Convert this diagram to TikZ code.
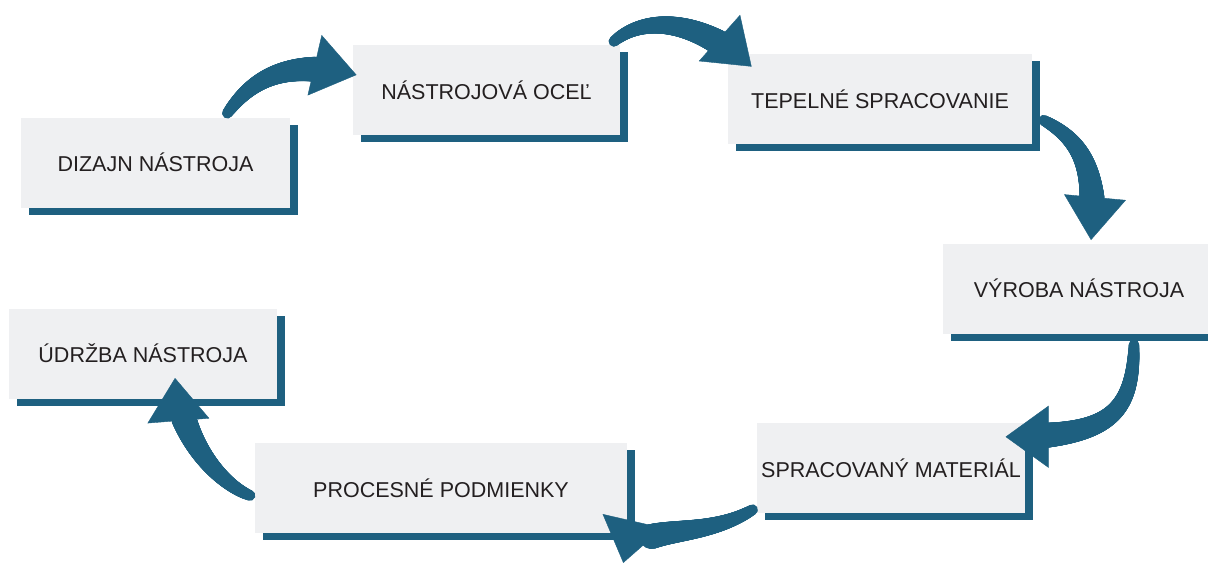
\documentclass[tikz,border=0pt]{standalone}
\usepackage{fontspec}
\setmainfont{Liberation Sans}
\usetikzlibrary{shadows,decorations.markings,arrows.meta}

\definecolor{flowblue}{RGB}{30,96,128}
\definecolor{boxgray}{RGB}{239,240,242}
\definecolor{textgray}{RGB}{35,31,32}

\tikzset{
  stage/.style={fill=boxgray, text=textgray, inner sep=0pt, minimum height=90pt,
    font=\fontsize{21.5pt}{26pt}\selectfont,
    general shadow={fill=flowblue, shadow xshift=7.5pt, shadow yshift=-7pt}},
  flow/.style={
    postaction={decorate, decoration={markings,
      mark=between positions 5pt and -42pt step 0.5pt with {
        \pgfmathsetmacro\flowrad{5+7.5*\pgfkeysvalueof{/pgf/decoration/mark info/distance from start}/(\pgfdecoratedpathlength-42)}
        \fill[flowblue] (0,0) circle (\flowrad pt);}}},
    postaction={decorate, decoration={markings,
      mark=at position 0.998 with {\arrow[flowblue]{Triangle[length=43pt,width=62pt]}}}}}
}

\begin{document}
\begin{tikzpicture}[x=1pt, y=-1pt]
  \useasboundingbox (0,0) rectangle (1208,565);

  % Stages
  \node[stage, minimum width=269pt] (dizajn) at (155.5,162.5) {DIZAJN NÁSTROJA};
  \node[stage, minimum width=267pt] (ocel) at (486.5,90) {NÁSTROJOVÁ OCEĽ};
  \node[stage, minimum width=304pt] (tepelne) at (880,99) {TEPELNÉ SPRACOVANIE};
  \node[stage, minimum width=272pt] (vyroba) at (1079,288.5) {VÝROBA NÁSTROJA};
  \node[stage, minimum width=268pt] (material) at (891,468) {SPRACOVANÝ MATERIÁL};
  \node[stage, minimum width=372pt] (podmienky) at (441,488) {PROCESNÉ PODMIENKY};
  \node[stage, minimum width=268pt] (udrzba) at (143,353.5) {ÚDRŽBA NÁSTROJA};

  % Curved arrows
  \path[flow] ([xshift=69pt]dizajn.north) .. controls +(25,-37) and +(-73,-17) .. ([xshift=4pt,yshift=15pt]ocel.west);
  \path[flow] ([xshift=-10pt]ocel.north east) .. controls +(30,-30) and +(-56,-50) .. ([xshift=24pt,yshift=-13pt]tepelne.north west);
  \path[flow] ([xshift=7pt,yshift=-19pt]tepelne.east) .. controls +(40,20) and +(7,-75) .. ([xshift=12pt,yshift=3pt]vyroba.north);
  \path[flow] ([xshift=55pt,yshift=-6pt]vyroba.south) .. controls +(0,75) and +(105,0) .. ([xshift=-20pt,yshift=-14pt]material.north east);
  \path[flow] ([yshift=-39pt]material.west) .. controls +(-57,38) and +(10,-45) .. ([xshift=-4pt,yshift=-30pt]podmienky.south east);
  \path[flow] ([yshift=-9pt]podmienky.west) .. controls +(-30,-8) and +(5,65) .. ([xshift=32pt,yshift=21pt]udrzba.south);
\end{tikzpicture}
\end{document}
